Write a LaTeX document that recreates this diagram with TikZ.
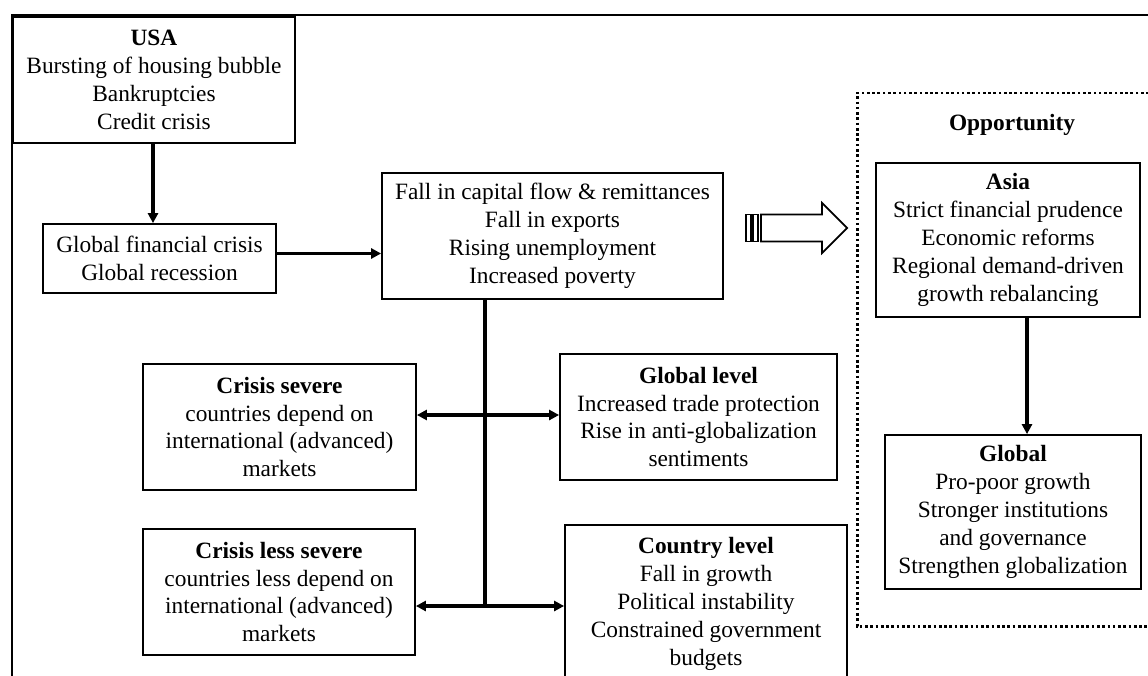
\documentclass[tikz,border=0pt]{standalone}
\usepackage{fontspec}
\setmainfont{Liberation Serif}
\usepackage{tikz}
\usetikzlibrary{
  arrows.meta,
  calc,
}
\tikzset{
  >={Triangle[length=0.2cm,width=0.2cm]},
  font=\fontsize{13.3pt}{15.9pt}\selectfont,
  box/.style={draw, line width=1pt, align=center, inner sep=0pt},
  flow/.style={line width=2pt, ->},
  twoway/.style={line width=2pt, <->},
  outline/.style={line width=1.5pt},
  zone/.style={line width=1.7pt, dash pattern=on 1.5pt off 1.5pt},
}

\begin{document}
\begin{tikzpicture}[x=1cm,y=1cm]
  \useasboundingbox (0,0) rectangle (22.96,13.5);
  \clip (0,0) rectangle (22.96,13.5);

  % outer frame
  \draw[outline] (0.24,-0.2) -- (0.24,13.2) -- (23.3,13.2);

  % LEFT column
  \node[box, minimum width=5.64cm, minimum height=2.52cm] (usa) at (3.08,11.90)
    {\textbf{USA}\\Bursting of housing bubble\\Bankruptcies\\Credit crisis};
  \node[box, minimum width=4.66cm, minimum height=1.38cm] (gfc) at (3.19,8.33)
    {Global financial crisis\\Global recession};
  \node[box, minimum width=6.82cm, minimum height=2.52cm] (fall) at (11.05,8.78)
    {Fall in capital flow \& remittances\\Fall in exports\\Rising unemployment\\Increased poverty};

  \draw[flow] (usa.south -| 3.06,0) -- (gfc.north -| 3.06,0);
  \draw[flow] ($(gfc.east)+(0,0.1)$) -- ($(gfc.east -| fall.west)+(0,0.1)$);

  % impact boxes
  \node[box, minimum width=5.46cm, minimum height=2.52cm] (severe) at (5.59,4.96)
    {\textbf{Crisis severe}\\countries depend on\\international (advanced)\\markets};
  \node[box, minimum width=5.44cm, minimum height=2.52cm] (lsevere) at (5.58,1.66)
    {\textbf{Crisis less severe}\\countries less depend on\\international (advanced)\\markets};
  \node[box, minimum width=5.54cm, minimum height=2.52cm] (glevel) at (13.97,5.16)
    {\textbf{Global level}\\Increased trade protection\\Rise in anti-globalization\\sentiments};
  \node[box, minimum width=5.64cm, minimum height=3.16cm] (clevel) at (14.12,1.42)
    {\textbf{Country level}\\Fall in growth\\Political instability\\Constrained government\\budgets};

  \coordinate (j1) at (9.70,5.20);
  \coordinate (j2) at (9.70,1.38);
  \draw[line width=2pt] (fall.south -| j1) -- (j2);
  \draw[twoway] (j1 -| severe.east) -- (j1 -| glevel.west);
  \draw[twoway] (j2 -| lsevere.east) -- (j2 -| clevel.west);

  % block arrow
  \draw[line width=1pt] (14.92,8.67) rectangle (15.02,9.21);
  \draw[line width=1pt] (15.06,8.67) rectangle (15.16,9.21);
  \draw[line width=1pt] (15.22,8.67) -- (16.44,8.67) -- (16.44,8.44) -- (16.94,8.94)
    -- (16.44,9.44) -- (16.44,9.21) -- (15.22,9.21) -- cycle;

  % RIGHT panel
  \draw[zone] (23.4,11.64) -- (17.14,11.64) -- (17.14,0.98) -- (23.4,0.98);
  \node[font=\fontsize{13.3pt}{15.9pt}\selectfont\bfseries] (opp) at (20.24,11.00) {Opportunity};

  \node[box, minimum width=5.28cm, minimum height=3.08cm] (asia) at (20.16,8.70)
    {\textbf{Asia}\\Strict financial prudence\\Economic reforms\\Regional demand-driven\\growth rebalancing};
  \node[box, minimum width=5.12cm, minimum height=3.08cm] (global) at (20.26,3.26)
    {\textbf{Global}\\Pro-poor growth\\Stronger institutions\\and governance\\Strengthen globalization};

  \draw[flow] (asia.south -| 20.54,0) -- (global.north -| 20.54,0);
\end{tikzpicture}
\end{document}
